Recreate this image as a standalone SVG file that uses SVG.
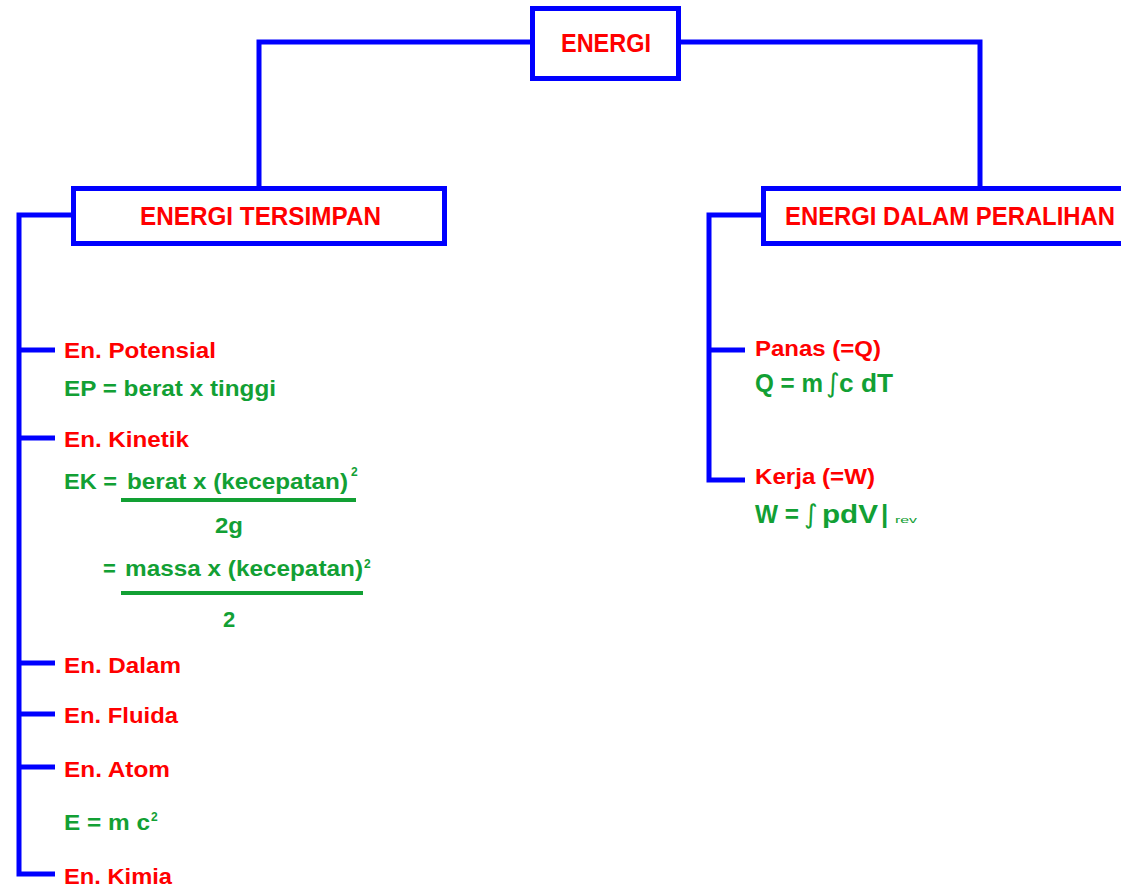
<svg xmlns="http://www.w3.org/2000/svg" width="1121" height="888" viewBox="0 0 1121 888">
<style>
text{font-family:"Liberation Sans",Arial,sans-serif;font-weight:bold}
.h{fill:#ff0000;font-size:26px}
.r{fill:#ff0000;font-size:22px}
.g{fill:#12a034;font-size:22px}
.gb{fill:#12a034;font-size:26px}
.sup{fill:#12a034;font-size:12px}
.int{font-family:"DejaVu Sans",sans-serif;font-weight:normal;fill:#12a034;font-size:26px}
.box{fill:#ffffff;stroke:#0000ff;stroke-width:5}
.ln{fill:none;stroke:#0000ff;stroke-width:5}
.fr{stroke:#12a034;stroke-width:4}
</style>
<rect width="1121" height="888" fill="#ffffff"/>
<g id="connectors">
<path class="ln" d="M530 42 H259 V188"/>
<path class="ln" d="M681 42 H980 V188"/>
<path class="ln" d="M73 215 H19 V874 H55"/>
<path class="ln" d="M19 350 H55 M19 438 H55 M19 663 H55 M19 714 H55 M19 767 H55"/>
<path class="ln" d="M763 215 H709 V480 H745"/>
<path class="ln" d="M709 350 H745"/>
</g>
<g id="energi">
<rect class="box" x="532.5" y="8.5" width="146" height="70"/>
<text class="h" x="561" y="52" textLength="90" lengthAdjust="spacingAndGlyphs">ENERGI</text>
</g>
<g id="energi-tersimpan">
<rect class="box" x="73.5" y="188.5" width="371" height="55"/>
<text class="h" x="140" y="225" textLength="241" lengthAdjust="spacingAndGlyphs">ENERGI TERSIMPAN</text>
</g>
<g id="energi-dalam-peralihan">
<rect class="box" x="763.5" y="188.5" width="400" height="55"/>
<text class="h" x="785" y="225" textLength="330" lengthAdjust="spacingAndGlyphs">ENERGI DALAM PERALIHAN</text>
</g>
<g id="en-potensial">
<text class="r" x="64" y="358" textLength="152" lengthAdjust="spacingAndGlyphs">En. Potensial</text>
<text class="g" x="64" y="396" textLength="212" lengthAdjust="spacingAndGlyphs">EP = berat x tinggi</text>
</g>
<g id="en-kinetik">
<text class="r" x="64" y="447" textLength="125" lengthAdjust="spacingAndGlyphs">En. Kinetik</text>
<text class="g" x="64" y="489" textLength="53" lengthAdjust="spacingAndGlyphs">EK =</text>
<text class="g" x="127" y="489" textLength="221" lengthAdjust="spacingAndGlyphs">berat x (kecepatan)</text>
<text class="sup" x="351" y="476">2</text>
<line class="fr" x1="121" y1="500" x2="356" y2="500"/>
<text class="g" x="215" y="533" textLength="28" lengthAdjust="spacingAndGlyphs">2g</text>
<text class="g" x="103" y="576">=</text>
<text class="g" x="125" y="576" textLength="238" lengthAdjust="spacingAndGlyphs">massa x (kecepatan)</text>
<text class="sup" x="364" y="568">2</text>
<line class="fr" x1="121" y1="593" x2="363" y2="593"/>
<text class="g" x="223" y="627">2</text>
</g>
<g id="en-dalam">
<text class="r" x="64" y="673" textLength="117" lengthAdjust="spacingAndGlyphs">En. Dalam</text>
</g>
<g id="en-fluida">
<text class="r" x="64" y="723" textLength="114" lengthAdjust="spacingAndGlyphs">En. Fluida</text>
</g>
<g id="en-atom">
<text class="r" x="64" y="777" textLength="106" lengthAdjust="spacingAndGlyphs">En. Atom</text>
<text class="g" x="64" y="830" textLength="86" lengthAdjust="spacingAndGlyphs">E = m c</text>
<text class="sup" x="151" y="821">2</text>
</g>
<g id="en-kimia">
<text class="r" x="64" y="884" textLength="108" lengthAdjust="spacingAndGlyphs">En. Kimia</text>
</g>
<g id="panas">
<text class="r" x="755" y="356" textLength="126" lengthAdjust="spacingAndGlyphs">Panas (=Q)</text>
<text class="gb" x="755" y="392" textLength="68" lengthAdjust="spacingAndGlyphs">Q = m</text>
<text class="int" x="826" y="392">∫</text>
<text class="gb" x="839" y="392" textLength="54" lengthAdjust="spacingAndGlyphs">c dT</text>
</g>
<g id="kerja">
<text class="r" x="755" y="484" textLength="120" lengthAdjust="spacingAndGlyphs">Kerja (=W)</text>
<text class="gb" x="755" y="523" textLength="44" lengthAdjust="spacingAndGlyphs">W =</text>
<text class="int" x="804" y="523">∫</text>
<text class="gb" x="822" y="523" textLength="56" lengthAdjust="spacingAndGlyphs">pdV</text>
<text class="gb" x="881" y="523">|</text>
<text class="g" x="895" y="523" style="font-size:9px;font-weight:normal" textLength="22" lengthAdjust="spacingAndGlyphs">rev</text>
</g>
</svg>
